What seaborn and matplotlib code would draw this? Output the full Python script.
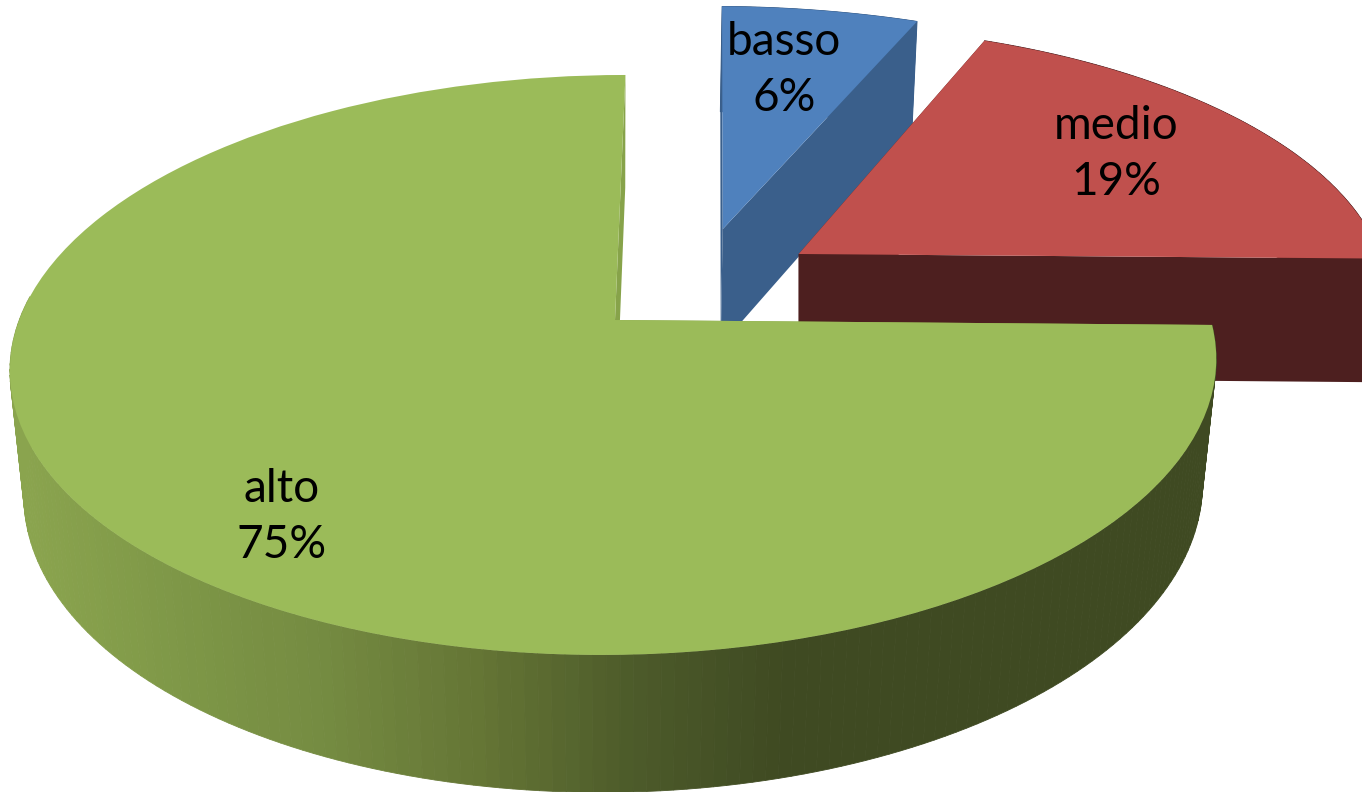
import numpy as np
import matplotlib
matplotlib.use("Agg")
import matplotlib.pyplot as plt
from matplotlib.transforms import Transform
import seaborn as sns

categories = ["basso", "medio", "alto"]
values = [6, 19, 75]
top_colors = ["#4f81bd", "#c0504d", "#9bbb59"]
wall_colors = ["#3a5f8b", "#4d1f1f", "#3f4a22"]
gradient_stops = ["#8aa44e", "#7e9747", "#748a41", "#647535", "#4d5b2a", "#3f4a22"]
radial_alto = "#87a34a"

# how far each slice is pulled out, disk units
offsets = [(0.188, 0.338), (0.316, 0.242), (0.0, 0.0)]
label_pos = [(784, 70), (1116, 154), (282, 517)]

# camera
CX, CY = 615, 320
A, B = 603, 283
K = 0.155
# per slice: wall depth, shrink of the lower rim, x stretch, x shear
depth = [123, 128, 127]
shrink = [0.02, 0.0, 0.023]
stretch = [1.05, 1.0, 0.988]
shear = [0.008, 0.025, 0.02]


def project(x, y, z, i):
    cx, cy = offsets[i]
    x = cx + stretch[i] * (x - cx) + shear[i] * (y - cy)
    w = 1 + K * y + shrink[i] * z
    return CX + A * x / w, CY + (depth[i] * z - B * y) / w


class DiskTop(Transform):
    input_dims = 2
    output_dims = 2
    is_affine = False
    has_inverse = False

    def __init__(self, i):
        super().__init__()
        self.i = i

    def transform_non_affine(self, values):
        pts = np.asarray(values, dtype=float)
        X, Y = project(pts[:, 0], pts[:, 1], 0.0, self.i)
        return np.column_stack([X, Y])


sns.set_theme(style="white")
plt.rcParams["font.family"] = ["Lato", "DejaVu Sans"]

fig = plt.figure(figsize=(13.62, 7.92), dpi=100)
ax = fig.add_axes([0, 0, 1, 1])

wedges, _ = ax.pie(values, startangle=89, counterclock=False, colors=top_colors)
ax.set_aspect("auto")
ax.set_xlim(0, 1362)
ax.set_ylim(792, 0)
ax.axis("off")

# the shear already leans the big slice's top edge over, take the rotation back there
wedges[2].set_theta1(wedges[2].theta1 + 1)

ramp = sns.blend_palette(gradient_stops, 200)


def wall_color(i, x):
    if i != 2:
        return wall_colors[i]
    t = np.clip((x - 30) / (780 - 30), 0, 1)
    return ramp[int(t * 199)]


for i, w in enumerate(wedges):
    w.set_center(offsets[i])
    w.set_transform(DiskTop(i) + ax.transData)
    w.set_zorder(2 * i + 1)
    w.set_linewidth(0)
    cx, cy = w.center
    t1, t2 = np.radians(w.theta1), np.radians(w.theta2)

    # radial sides
    for t in (t1, t2):
        xs = np.array([cx, cx + np.cos(t), cx + np.cos(t), cx])
        ys = np.array([cy, cy + np.sin(t), cy + np.sin(t), cy])
        zs = np.array([0, 0, 1, 1])
        px, py = project(xs, ys, zs, i)
        col = radial_alto if i == 2 else wall_colors[i]
        ax.fill(px, py, color=col, lw=0, zorder=2 * i)

    # outer rim, cut in small strips so alto can carry its gradient
    th = np.linspace(t1, t2, 241)
    for a, b in zip(th[:-1], th[1:]):
        if i == 2 and np.sin(a) > 0.1:
            continue  # back of the big slice, never seen
        xs = cx + np.cos([a, b, b, a])
        ys = cy + np.sin([a, b, b, a])
        px, py = project(xs, ys, np.array([0, 0, 1, 1]), i)
        c = wall_color(i, px.mean())
        ax.fill(px, py, color=c, ec=c, lw=0.6, zorder=2 * i)

for name, val, (lx, ly) in zip(categories, values, label_pos):
    ax.text(lx, ly, f"{name}\n{val}%", ha="center", va="center",
            fontsize=33, color="black", linespacing=1.44, zorder=10)

fig.savefig("out.png", dpi=100, facecolor="white")
